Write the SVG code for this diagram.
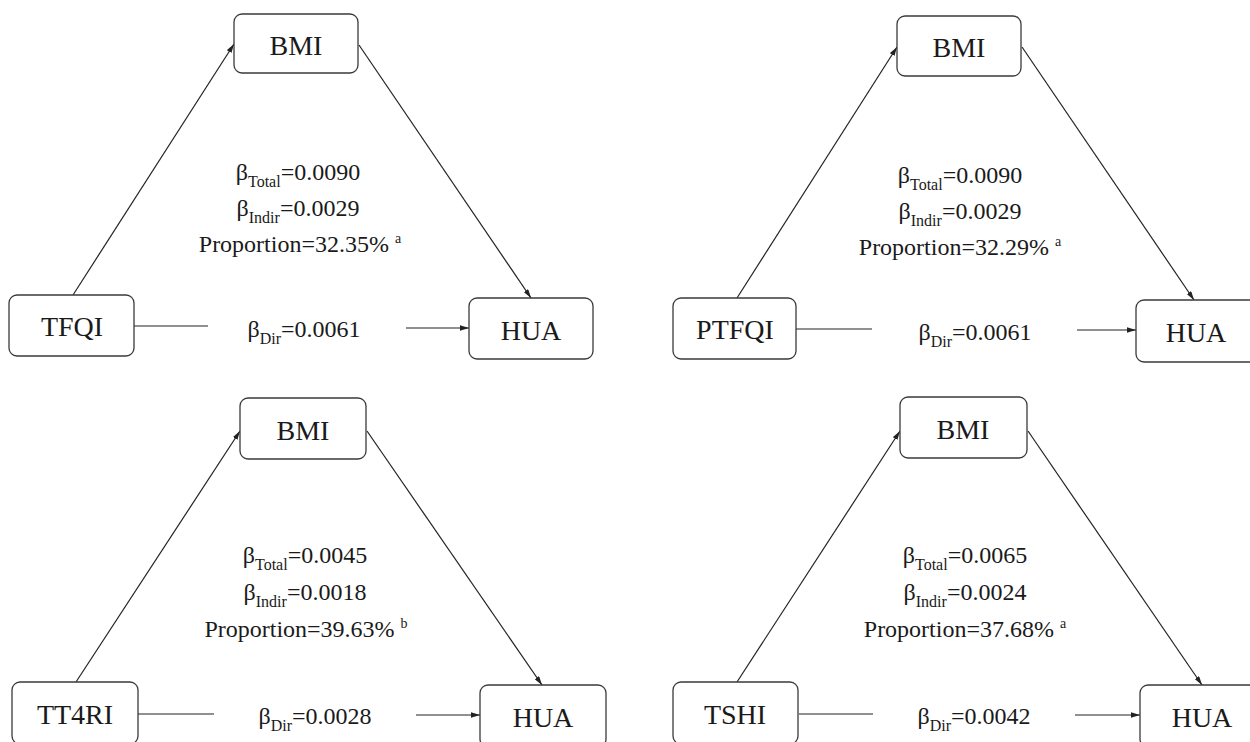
<svg xmlns="http://www.w3.org/2000/svg" width="1250" height="742" viewBox="0 0 1250 742">
<style>
.box{fill:#fff;stroke:#3a3a3a;stroke-width:1.3}
text{font-family:'Liberation Serif','Times New Roman',Times,serif;fill:#1a1a1a;text-anchor:middle}
.nt{font-size:28px}
.lt{font-size:24px}
.sub{font-size:16px}
.sup{font-size:14px}
.edge{stroke:#222;stroke-width:1.2;fill:none}
.arr{marker-end:url(#ah)}
</style>
<defs>
<marker id="ah" viewBox="0 0 10 6" refX="10" refY="3" markerWidth="9" markerHeight="5.4" orient="auto" markerUnits="userSpaceOnUse">
<path d="M0,0 L10,3 L0,6 z" fill="#222"/>
</marker>
</defs>
<rect width="1250" height="742" fill="#fff"/>

<g id="connectors">
<path class="edge arr" d="M73,295 L234,44"/>
<path class="edge arr" d="M359,45 L531,298"/>
<path class="edge" d="M134,326 L208,326"/>
<path class="edge arr" d="M406,328 L469,328"/>

<path class="edge arr" d="M737,298 L897,47"/>
<path class="edge arr" d="M1022,47 L1194,300"/>
<path class="edge" d="M796,329 L872,329"/>
<path class="edge arr" d="M1077,330 L1136,330"/>

<path class="edge arr" d="M76,682 L240,431"/>
<path class="edge arr" d="M367,431 L542,685"/>
<path class="edge" d="M138,714 L214,714"/>
<path class="edge arr" d="M416,715 L480,715"/>

<path class="edge arr" d="M737,682 L900,431"/>
<path class="edge arr" d="M1028,431 L1202,685"/>
<path class="edge" d="M799,714 L873,714"/>
<path class="edge arr" d="M1075,715 L1140,715"/>
</g>

<g id="node-bmi-1"><rect class="box" x="234" y="14" width="124" height="59" rx="8"/><text class="nt" x="296" y="55">BMI</text></g>
<g id="node-tfqi"><rect class="box" x="9" y="295" width="125" height="61" rx="8"/><text class="nt" x="72" y="336">TFQI</text></g>
<g id="node-hua-1"><rect class="box" x="469" y="298" width="124" height="61" rx="8"/><text class="nt" x="531" y="340">HUA</text></g>

<g id="node-bmi-2"><rect class="box" x="897" y="16" width="124" height="60" rx="8"/><text class="nt" x="959" y="57">BMI</text></g>
<g id="node-ptfqi"><rect class="box" x="673" y="298" width="123" height="61" rx="8"/><text class="nt" x="735" y="339">PTFQI</text></g>
<g id="node-hua-2"><rect class="box" x="1136" y="300" width="124" height="62" rx="8"/><text class="nt" x="1196" y="342">HUA</text></g>

<g id="node-bmi-3"><rect class="box" x="240" y="398" width="126" height="61" rx="8"/><text class="nt" x="303" y="440">BMI</text></g>
<g id="node-tt4ri"><rect class="box" x="12" y="682" width="126" height="62" rx="8"/><text class="nt" x="75" y="724">TT4RI</text></g>
<g id="node-hua-3"><rect class="box" x="480" y="685" width="126" height="62" rx="8"/><text class="nt" x="543" y="727">HUA</text></g>

<g id="node-bmi-4"><rect class="box" x="900" y="397" width="127" height="61" rx="8"/><text class="nt" x="963" y="439">BMI</text></g>
<g id="node-tshi"><rect class="box" x="673" y="682" width="125" height="62" rx="8"/><text class="nt" x="735" y="724">TSHI</text></g>
<g id="node-hua-4"><rect class="box" x="1140" y="685" width="125" height="62" rx="8"/><text class="nt" x="1202" y="727">HUA</text></g>

<g id="labels">
<text class="lt" x="298" y="180">β<tspan class="sub" dy="7">Total</tspan><tspan dy="-7">=0.0090</tspan></text>
<text class="lt" x="298" y="216">β<tspan class="sub" dy="7">Indir</tspan><tspan dy="-7">=0.0029</tspan></text>
<text class="lt" x="300" y="252">Proportion=32.35% <tspan class="sup" dy="-9">a</tspan></text>
<text class="lt" x="304" y="337">β<tspan class="sub" dy="7">Dir</tspan><tspan dy="-7">=0.0061</tspan></text>

<text class="lt" x="960" y="183">β<tspan class="sub" dy="7">Total</tspan><tspan dy="-7">=0.0090</tspan></text>
<text class="lt" x="960" y="219">β<tspan class="sub" dy="7">Indir</tspan><tspan dy="-7">=0.0029</tspan></text>
<text class="lt" x="960" y="255">Proportion=32.29% <tspan class="sup" dy="-9">a</tspan></text>
<text class="lt" x="975" y="340">β<tspan class="sub" dy="7">Dir</tspan><tspan dy="-7">=0.0061</tspan></text>

<text class="lt" x="305" y="563">β<tspan class="sub" dy="7">Total</tspan><tspan dy="-7">=0.0045</tspan></text>
<text class="lt" x="305" y="600">β<tspan class="sub" dy="7">Indir</tspan><tspan dy="-7">=0.0018</tspan></text>
<text class="lt" x="306" y="637">Proportion=39.63% <tspan class="sup" dy="-9">b</tspan></text>
<text class="lt" x="315" y="724">β<tspan class="sub" dy="7">Dir</tspan><tspan dy="-7">=0.0028</tspan></text>

<text class="lt" x="965" y="563">β<tspan class="sub" dy="7">Total</tspan><tspan dy="-7">=0.0065</tspan></text>
<text class="lt" x="965" y="600">β<tspan class="sub" dy="7">Indir</tspan><tspan dy="-7">=0.0024</tspan></text>
<text class="lt" x="965" y="637">Proportion=37.68% <tspan class="sup" dy="-9">a</tspan></text>
<text class="lt" x="974" y="724">β<tspan class="sub" dy="7">Dir</tspan><tspan dy="-7">=0.0042</tspan></text>
</g>
</svg>
